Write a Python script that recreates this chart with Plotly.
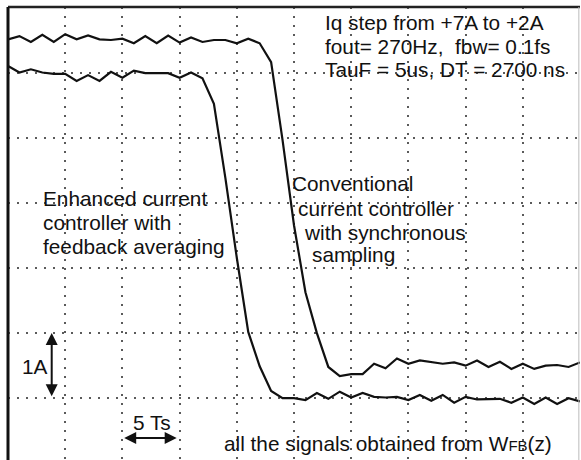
import plotly.graph_objects as go

# ---- data (time in sampling periods Ts, current in A) ----
time_ts = list(range(0, 51))

conventional_A = [7.51, 7.56, 7.47, 7.58, 7.47, 7.59, 7.51, 7.57, 7.51, 7.50,
                  7.52, 7.45, 7.56, 7.45, 7.57, 7.46, 7.54, 7.47, 7.50, 7.50,
                  7.45, 7.52, 7.45, 7.16, 5.96, 4.65, 3.62, 2.99, 2.47, 2.33,
                  2.36, 2.36, 2.52, 2.45, 2.60, 2.52, 2.57, 2.54, 2.52, 2.54,
                  2.49, 2.57, 2.47, 2.55, 2.44, 2.52, 2.44, 2.49, 2.50, 2.47,
                  2.54]

enhanced_A = [7.10, 7.00, 7.05, 7.00, 6.98, 6.98, 6.87, 6.96, 6.87, 7.01,
              6.92, 7.03, 6.99, 6.99, 6.99, 6.92, 7.00, 6.91, 6.52, 5.38,
              4.15, 3.01, 2.48, 2.10, 1.99, 1.99, 1.96, 2.07, 1.98, 2.09,
              2.00, 2.07, 2.01, 2.00, 2.01, 1.96, 2.04, 1.95, 2.04, 1.92,
              2.01, 1.97, 1.97, 1.98, 1.92, 2.00, 1.90, 2.00, 1.90, 1.99,
              1.94]

x_grid = [5, 10, 15, 20, 25, 30, 35, 40, 45]
y_grid = [2, 3, 4, 5, 6, 7]

info_lines = ["Iq step from +7A to +2A",
              "fout= 270Hz,  fbw= 0.1fs",
              "TauF = 5us, DT = 2700 ns"]
enh_lines = ["Enhanced current", "controller with", "feedback averaging"]
conv_lines = ["Conventional", "current controller", "with synchronous", "sampling"]

# ---- layout geometry ----
W, H = 581, 460
ML, MR, MT, MB = 8, 1, 7, 0
PW, PH = W - ML - MR, H - MT - MB
FONT = "Liberation Sans, Arial, sans-serif"
FS = 20.8
INK = "#111111"


def X(px):
    return (px - ML) / PW


def Y(py):
    return 1 - (py - MT) / PH


fig = go.Figure()
fig.add_trace(go.Scatter(x=time_ts, y=conventional_A, mode="lines",
                         line=dict(color=INK, width=2.2), name="Conventional",
                         showlegend=False))
fig.add_trace(go.Scatter(x=time_ts, y=enhanced_A, mode="lines",
                         line=dict(color=INK, width=2.2), name="Enhanced",
                         showlegend=False))

ann = []


def txt(s, px, py, size=FS):
    ann.append(dict(text=s, x=X(px), y=Y(py), xref="paper", yref="paper",
                    xanchor="left", yanchor="middle", showarrow=False,
                    font=dict(family=FONT, size=size, color=INK)))


for s, py in zip(info_lines, [23, 46.5, 69.5]):
    txt(s, 323, py)
for s, py in zip(enh_lines, [199, 222.5, 246]):
    txt(s, 41, py)
for s, (px, py) in zip(conv_lines, [(290, 183), (296, 208.5), (302, 232.5), (310, 254)]):
    txt(s, px, py)
txt("1A", 20, 366)
txt("5 Ts", 131, 422)
txt("all the signals obtained from W<span style='font-size:15px'>FB</span>(z)", 222, 443)

# double arrows
ann.append(dict(text="", x=X(51.7), y=Y(333), xref="paper", yref="paper",
                ax=0, ay=64.7, showarrow=True, arrowside="end+start",
                arrowhead=2, arrowsize=1.2, arrowwidth=2, arrowcolor=INK,
                standoff=0, startstandoff=0))
ann.append(dict(text="", x=X(176.7), y=Y(438), xref="paper", yref="paper",
                ax=-54, ay=0, showarrow=True, arrowside="end+start",
                arrowhead=2, arrowsize=1.2, arrowwidth=2, arrowcolor=INK,
                standoff=0, startstandoff=0))

shapes = [
    dict(type="line", xref="paper", yref="paper", x0=0, x1=1, y0=1, y1=1,
         line=dict(color="#222222", width=2.5)),
    dict(type="line", xref="paper", yref="paper", x0=0, x1=0, y0=0, y1=1,
         line=dict(color="#111111", width=3)),
    dict(type="line", xref="paper", yref="paper", x0=0.998, x1=0.998, y0=0, y1=1,
         line=dict(color="#bbbbbb", width=1)),
]

grid_style = dict(showgrid=True, gridcolor="#5a5a5a", gridwidth=2,
                  griddash="1.5px,7.5px", zeroline=False, showticklabels=False,
                  ticks="", showline=False, fixedrange=True)

fig.update_layout(
    width=W, height=H,
    margin=dict(l=ML, r=MR, t=MT, b=MB, pad=0, autoexpand=False),
    paper_bgcolor="white", plot_bgcolor="white",
    xaxis=dict(range=[0, 50], tickvals=x_grid, **grid_style),
    yaxis=dict(range=[8.008 - PH / 65.0, 8.008], tickvals=y_grid, **grid_style),
    annotations=ann, shapes=shapes, showlegend=False,
)

fig.write_html("out.html", include_plotlyjs=True, config={"displayModeBar": False})
